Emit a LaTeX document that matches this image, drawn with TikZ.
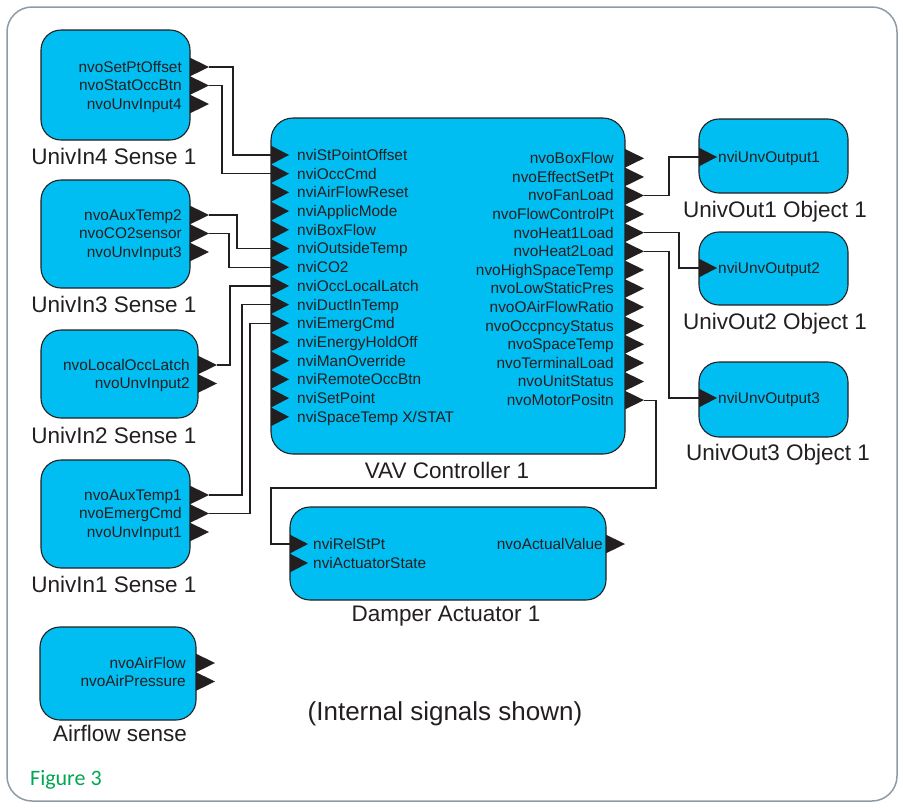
\documentclass[tikz,border=0pt]{standalone}
\usepackage{fontspec}
\setmainfont{Liberation Sans}
\newfontfamily\capfont{Carlito}
\definecolor{boxfill}{HTML}{00BEF2}
\definecolor{ink}{HTML}{231F20}
\definecolor{framec}{HTML}{8E9AA8}
\definecolor{figgreen}{HTML}{00A651}
\tikzset{
  blk/.style={draw=ink, line width=1.1pt, fill=boxfill, rounded corners=20pt,
              inner sep=0pt, outer sep=0pt},
  sig/.style={inner sep=0pt, text=ink, font=\fontsize{15.4}{18}\selectfont},
  ttl/.style={inner sep=0pt, text=ink, font=\fontsize{22.5}{27}\selectfont, anchor=base},
  pinfill/.style={fill=ink},
  wire/.style={draw=ink, line width=1.2pt},
}
% output pin: triangle sitting on a right-hand edge; the tip is named
\newcommand\outpin[4]{%
  \fill[pinfill] (#2,#3-#4) -- (#2+19,#3) -- (#2,#3+#4) -- cycle;
  \coordinate (#1) at (#2+19,#3);}
% input pin: triangle pointing into a box from its left edge; the base is named
\newcommand\inpin[4]{%
  \fill[pinfill] (#2,#3-#4) -- (#2+18,#3) -- (#2,#3+#4) -- cycle;
  \coordinate (#1) at (#2,#3);}
\begin{document}
\begin{tikzpicture}[x=1pt,y=-1pt]
\useasboundingbox (0,0) rectangle (903,807);
% outer frame
\draw[framec, line width=1.5pt, rounded corners=25pt] (7,7) rectangle (897,801);

% ---------- blocks ----------
\node[blk, minimum width=149, minimum height=110] (in4) at (115.5,85) {};
\node[blk, minimum width=149, minimum height=108] (in3) at (115.5,234) {};
\node[blk, minimum width=157, minimum height=88]  (in2) at (119.5,374) {};
\node[blk, minimum width=149, minimum height=108] (in1) at (115.5,514) {};
\node[blk, minimum width=156, minimum height=93]  (air) at (118,673.5) {};
\node[blk, minimum width=354, minimum height=336, rounded corners=22pt] (vav) at (448,286) {};
\node[blk, minimum width=149, minimum height=74]  (out1) at (773.5,156) {};
\node[blk, minimum width=149, minimum height=73]  (out2) at (773.5,268.5) {};
\node[blk, minimum width=149, minimum height=75]  (out3) at (773.5,399.5) {};
\node[blk, minimum width=316, minimum height=93]  (dmp) at (448,553.5) {};

% ---------- titles ----------
\node[ttl] (in4-t) at (114,164) {UnivIn4 Sense 1};
\node[ttl] (in3-t) at (114,312) {UnivIn3 Sense 1};
\node[ttl] (in2-t) at (114,443) {UnivIn2 Sense 1};
\node[ttl] (in1-t) at (114,592) {UnivIn1 Sense 1};
\node[ttl] (air-t) at (120,741) {Airflow sense};
\node[ttl] (vav-t) at (447,478) {VAV Controller 1};
\node[ttl] (out1-t) at (775,217) {UnivOut1 Object 1};
\node[ttl] (out2-t) at (775,329) {UnivOut2 Object 1};
\node[ttl] (out3-t) at (778,460) {UnivOut3 Object 1};
\node[ttl] (dmp-t) at (446,621) {Damper Actuator 1};
\node[ttl, font=\fontsize{26}{30}\selectfont] (note) at (445,720) {(Internal signals shown)};
\node[inner sep=0pt, anchor=base west, text=figgreen, font=\capfont\fontsize{22}{26}\selectfont]
  (fig) at (30,785) {Figure 3};

% ---------- sensor outputs ----------
\foreach \t [count=\i] in {nvoSetPtOffset, nvoStatOccBtn, nvoUnvInput4} {
  \pgfmathsetmacro\yy{67+18.5*(\i-1)}
  \outpin{in4-o\i}{190}{\yy}{9.3}
  \node[sig, anchor=base east] (in4-l\i) at (182,\yy+5.4) {\t};
}
\foreach \t [count=\i] in {nvoAuxTemp2, nvoCO2sensor, nvoUnvInput3} {
  \pgfmathsetmacro\yy{215+18.5*(\i-1)}
  \outpin{in3-o\i}{190}{\yy}{9.3}
  \node[sig, anchor=base east] (in3-l\i) at (182,\yy+5.4) {\t};
}
\foreach \t [count=\i] in {nvoLocalOccLatch, nvoUnvInput2} {
  \pgfmathsetmacro\yy{365+18.5*(\i-1)}
  \outpin{in2-o\i}{198}{\yy}{9.3}
  \node[sig, anchor=base east] (in2-l\i) at (190,\yy+5.4) {\t};
}
\foreach \t [count=\i] in {nvoAuxTemp1, nvoEmergCmd, nvoUnvInput1} {
  \pgfmathsetmacro\yy{495+18.5*(\i-1)}
  \outpin{in1-o\i}{190}{\yy}{9.3}
  \node[sig, anchor=base east] (in1-l\i) at (182,\yy+5.4) {\t};
}
\foreach \t [count=\i] in {nvoAirFlow, nvoAirPressure} {
  \pgfmathsetmacro\yy{663+18.5*(\i-1)}
  \outpin{air-o\i}{196}{\yy}{9.3}
  \node[sig, anchor=base east] (air-l\i) at (186,\yy+5.4) {\t};
}

% ---------- VAV controller ----------
\foreach \t [count=\i] in {nviStPointOffset, nviOccCmd, nviAirFlowReset, nviApplicMode,
    nviBoxFlow, nviOutsideTemp, nviCO2, nviOccLocalLatch, nviDuctInTemp, nviEmergCmd,
    nviEnergyHoldOff, nviManOverride, nviRemoteOccBtn, nviSetPoint, nviSpaceTemp X/STAT} {
  \pgfmathsetmacro\yy{155+18.7*(\i-1)}
  \inpin{vav-i\i}{271}{\yy}{9.35}
  \node[sig, anchor=base west] (vav-il\i) at (297,\yy+5.4) {\t};
}
\foreach \t [count=\i] in {nvoBoxFlow, nvoEffectSetPt, nvoFanLoad, nvoFlowControlPt,
    nvoHeat1Load, nvoHeat2Load, nvoHighSpaceTemp, nvoLowStaticPres, nvoOAirFlowRatio,
    nvoOccpncyStatus, nvoSpaceTemp, nvoTerminalLoad, nvoUnitStatus, nvoMotorPositn} {
  \pgfmathsetmacro\yy{158.3+18.6*(\i-1)}
  \outpin{vav-o\i}{625}{\yy}{9.3}
  \node[sig, anchor=base east] (vav-ol\i) at (614,\yy+5.4) {\t};
}

% ---------- output objects ----------
\inpin{out1-i}{699}{157}{9.3}
\node[sig, anchor=base west] (out1-l) at (718,162.4) {nviUnvOutput1};
\inpin{out2-i}{699}{268}{9.3}
\node[sig, anchor=base west] (out2-l) at (718,273.4) {nviUnvOutput2};
\inpin{out3-i}{699}{398}{9.3}
\node[sig, anchor=base west] (out3-l) at (718,403.4) {nviUnvOutput3};

% ---------- damper actuator ----------
\inpin{dmp-i1}{290}{544}{9.3}
\inpin{dmp-i2}{290}{563}{9.3}
\node[sig, anchor=base west] (dmp-l1) at (313,549.4) {nviRelStPt};
\node[sig, anchor=base west] (dmp-l2) at (313,568.4) {nviActuatorState};
\outpin{dmp-o1}{606}{544}{9.3}
\node[sig, anchor=base east] (dmp-l3) at (603,549.4) {nvoActualValue};

% ---------- bindings ----------
\draw[wire] (in4-o1) -- ++(24,0) |- (vav-i1);
\draw[wire] (in4-o2) -- ++(13,0) |- (vav-i2);
\draw[wire] (in3-o1) -- ++(28,0) |- (vav-i6);
\draw[wire] (in3-o2) -- ++(20,0) |- (vav-i7);
\draw[wire] (in2-o1) -- ++(13,0) |- (vav-i8);
\draw[wire] (in1-o1) -- ++(33,0) |- (vav-i9);
\draw[wire] (in1-o2) -- ++(41,0) |- (vav-i10);
\draw[wire] (vav-o3) -- ++(25,0) |- (out1-i);
\draw[wire] (vav-o5) -- ++(35,0) |- (out2-i);
\draw[wire] (vav-o6) -- ++(25,0) |- (out3-i);
\coordinate (mp-bend) at (271,488);
\draw[wire] (vav-o14) -- ++(12,0) |- (mp-bend) |- (dmp-i1);
\end{tikzpicture}
\end{document}
